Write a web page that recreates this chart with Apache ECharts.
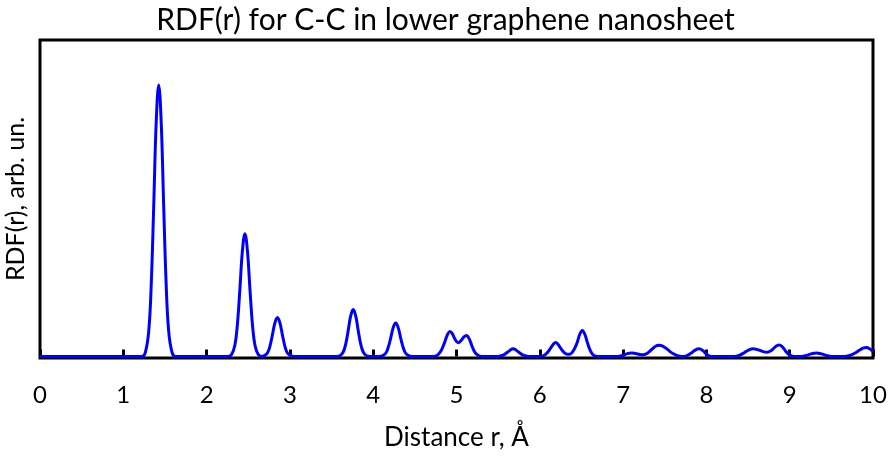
<!DOCTYPE html>
<html>
<head>
<meta charset="utf-8">
<script src="https://cdn.jsdelivr.net/npm/echarts@6/dist/echarts.min.js"></script>
<style>
  html, body { margin: 0; padding: 0; background: #fff; }
  #chart { width: 891px; height: 459px; }
</style>
</head>
<body>
<div id="chart"></div>
<script>
// Radial distribution function g(r) for C-C pairs, sampled along r (Å)
const rValues = [
  0.00, 1.225, 1.265, 1.305, 1.335, 1.365, 1.395, 1.425, 1.455, 1.485, 1.515, 1.545, 1.585, 1.625,
  2.26, 2.30, 2.34, 2.37, 2.40, 2.43, 2.46, 2.49, 2.52, 2.55, 2.58, 2.62, 2.66,
  2.69, 2.73, 2.76, 2.79, 2.82, 2.85, 2.88, 2.91, 2.94, 2.97, 3.01, 3.05,
  3.56, 3.60, 3.64, 3.67, 3.70, 3.73, 3.76, 3.79, 3.82, 3.85, 3.88, 3.92, 3.96,
  4.07, 4.11, 4.15, 4.18, 4.21, 4.24, 4.27, 4.30, 4.33, 4.36, 4.39, 4.43, 4.47,
  4.72, 4.76, 4.80, 4.83, 4.86, 4.89, 4.92, 4.95, 4.98, 5.02, 5.06, 5.09, 5.12, 5.15, 5.18, 5.21, 5.24, 5.28, 5.32,
  5.50, 5.56, 5.60, 5.64, 5.68, 5.72, 5.76, 5.80, 5.86,
  6.00, 6.05, 6.09, 6.13, 6.16, 6.19, 6.22, 6.25, 6.29, 6.33, 6.36, 6.39, 6.42, 6.45, 6.48, 6.51, 6.54, 6.57, 6.60, 6.63, 6.67, 6.71,
  6.94, 7.00, 7.05, 7.10, 7.15, 7.20, 7.24, 7.29, 7.34, 7.39, 7.43, 7.48, 7.53, 7.58, 7.63, 7.68, 7.72,
  7.76, 7.81, 7.86, 7.91, 7.96, 8.00, 8.04, 8.08,
  8.34, 8.40, 8.45, 8.50, 8.56, 8.62, 8.68, 8.73, 8.78, 8.83, 8.87, 8.91, 8.95, 8.99, 9.03, 9.07,
  9.14, 9.20, 9.26, 9.32, 9.38, 9.44, 9.50,
  9.66, 9.72, 9.78, 9.84, 9.88, 9.92, 9.96, 10.00
];
const rdfValues = [
  0.00, 0.00, 0.13, 0.79, 2.25, 4.74, 7.40, 8.58, 7.40, 4.74, 2.25, 0.79, 0.13, 0.00,
  0.00, 0.06, 0.36, 1.02, 2.14, 3.34, 3.88, 3.34, 2.14, 1.02, 0.36, 0.06, 0.00,
  0.02, 0.11, 0.32, 0.68, 1.06, 1.23, 1.06, 0.68, 0.32, 0.11, 0.02, 0.00,
  0.00, 0.02, 0.14, 0.39, 0.82, 1.28, 1.48, 1.28, 0.82, 0.39, 0.14, 0.02, 0.00,
  0.00, 0.02, 0.10, 0.28, 0.58, 0.91, 1.06, 0.91, 0.58, 0.28, 0.10, 0.02, 0.00,
  0.00, 0.02, 0.12, 0.26, 0.46, 0.68, 0.79, 0.72, 0.55, 0.43, 0.52, 0.62, 0.66, 0.57, 0.37, 0.18, 0.07, 0.01, 0.00,
  0.00, 0.04, 0.11, 0.19, 0.24, 0.19, 0.11, 0.04, 0.00,
  0.00, 0.03, 0.12, 0.26, 0.38, 0.44, 0.38, 0.26, 0.13, 0.07, 0.07, 0.13, 0.26, 0.45, 0.70, 0.82, 0.70, 0.45, 0.22, 0.08, 0.01, 0.00,
  0.00, 0.03, 0.09, 0.11, 0.09, 0.06, 0.05, 0.10, 0.21, 0.32, 0.35, 0.32, 0.23, 0.12, 0.05, 0.01, 0.00,
  0.02, 0.09, 0.19, 0.24, 0.18, 0.07, 0.01, 0.00,
  0.00, 0.04, 0.11, 0.19, 0.24, 0.21, 0.15, 0.13, 0.19, 0.31, 0.36, 0.31, 0.17, 0.06, 0.01, 0.00,
  0.00, 0.03, 0.08, 0.11, 0.08, 0.03, 0.00,
  0.00, 0.03, 0.10, 0.20, 0.26, 0.28, 0.24, 0.15
];
const xTicks = [0, 1, 2, 3, 4, 5, 6, 7, 8, 9, 10];

const titleText = 'RDF(r) for C-C in lower graphene nanosheet';
const xName = 'Distance r, Å';
const yName = 'RDF(r), arb. un.';

const seriesData = rValues.map((r, i) => [r, rdfValues[i]]);
const font = 'Lato, "Open Sans", sans-serif';

const chart = echarts.init(document.getElementById('chart'), null, { renderer: 'canvas' });
chart.setOption({
  animation: false,
  backgroundColor: '#fff',
  title: {
    text: titleText,
    left: 'center',
    top: 0,
    textStyle: { fontFamily: font, fontSize: 30, fontWeight: 'normal', color: '#000' }
  },
  grid: {
    left: 40, right: 18, top: 40, bottom: 101,
    outerBoundsMode: 'none',
    containLabel: false,
    show: true, borderColor: '#000', borderWidth: 3, backgroundColor: 'transparent'
  },
  xAxis: {
    type: 'value',
    min: xTicks[0], max: xTicks[xTicks.length - 1], interval: 1,
    name: xName,
    nameLocation: 'middle',
    nameGap: 67,
    nameTextStyle: { fontFamily: font, fontSize: 26, color: '#000' },
    axisLine: { show: false },
    axisTick: { show: true, inside: true, length: 7, lineStyle: { color: '#000', width: 3 } },
    axisLabel: { margin: 25, fontFamily: font, fontSize: 24, color: '#000' },
    splitLine: { show: false }
  },
  yAxis: {
    type: 'value',
    min: -0.05, max: 10,
    name: yName,
    nameLocation: 'middle',
    nameGap: 12,
    nameTextStyle: { fontFamily: font, fontSize: 25, color: '#000' },
    axisLine: { show: false },
    axisTick: { show: false },
    axisLabel: { show: false },
    splitLine: { show: false }
  },
  series: [{
    type: 'line',
    data: seriesData,
    smooth: 0.4,
    showSymbol: false,
    lineStyle: { color: '#0000ff', width: 3 },
    z: 3
  }]
});
</script>
</body>
</html>
